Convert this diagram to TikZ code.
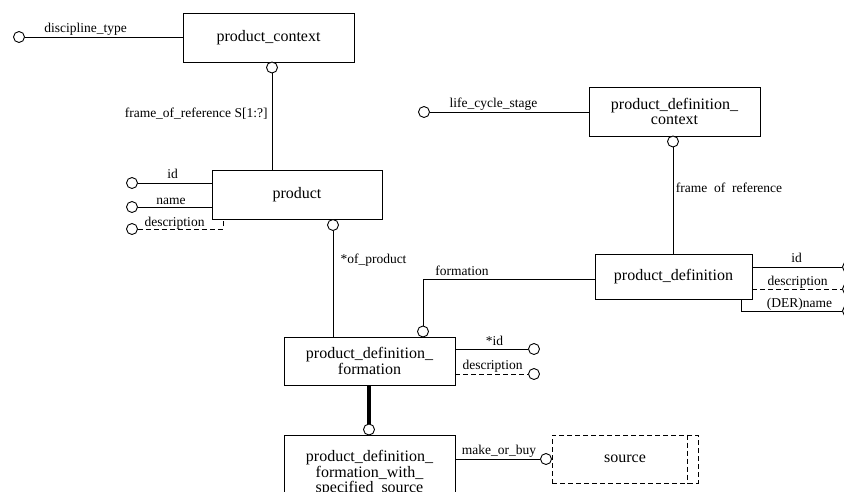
\documentclass[tikz,border=0pt]{standalone}
\usepackage{fontspec}
\setmainfont{Liberation Serif}

\begin{document}
\begin{tikzpicture}[x=1pt,y=-1pt,line width=0.9pt,
	entity/.style={draw,rectangle,minimum width=171pt,minimum height=49pt,align=center,inner sep=2pt,font=\fontsize{16}{15.5}\selectfont},
	ring/.style={draw,circle,fill=white,minimum size=11pt,inner sep=0pt},
	attr/.style={font=\fontsize{13.5}{14}\selectfont,inner sep=0pt,anchor=base},
	opt/.style={dash pattern=on 5pt off 3pt}]

		\useasboundingbox (0,0) rectangle (844,491);
		\clip (0,0) rectangle (844,491);

		% entities
		\node[entity] (pc) at (268.5,37.5) {product\_context};
		\node[entity,minimum width=170pt] (prod) at (297,194.5) {product};
		\node[entity] (pdc) at (674.5,111.5) {product\_definition\_\\context};
		\node[entity,minimum width=157pt,minimum height=45pt] (pd) at (673.5,276.5) {product\_definition};
		\node[entity,minimum height=48pt] (pdf) at (369.5,361) {product\_definition\_\\formation};
		\node[entity,anchor=north,minimum height=76pt] (pdfs) at (369.5,435) {product\_definition\_\\formation\_with\_\\specified\_source};
		\node[entity,opt,minimum width=146pt,minimum height=48pt] (src) at (625,459) {source};
		\draw[opt] ([xshift=-11pt]src.north east) -- ([xshift=-11pt]src.south east);

		% product_context
		\node[ring] (dtr) at (19,37) {};
		\draw (dtr) -- (dtr -| pc.west);
		\node[attr] (dtl) at (85.5,32) {discipline\_type};
		\node[ring] (pcr) at (272,67.5) {};
		\draw (pcr) -- (pcr |- prod.north);
		\node[attr,anchor=base east] (forl) at (268,117) {frame\_of\_reference S[1:?]};

		% product
		\node[ring] (idr) at (132,183) {};
		\node[ring] (namer) at (132,207) {};
		\node[ring] (descr) at (132,229) {};
		\draw (idr) -- (idr -| prod.west);
		\draw (namer) -- (namer -| prod.west);
		\coordinate (dk) at (223,229);
		\draw[opt] (descr) -- (dk) -- (dk |- prod.south);
		\node[attr] (idl) at (172.5,178) {id};
		\node[attr] (namel) at (171,204) {name};
		\node[attr] (descl) at (174.5,226.5) {description};
		\node[ring] (ofr) at (333,225) {};
		\draw (ofr) -- (ofr |- pdf.north);
		\node[attr] (ofl) at (373.5,263) {*of\_product};

		% product_definition_context
		\node[ring] (lcsr) at (424,112) {};
		\draw (lcsr) -- (lcsr -| pdc.west);
		\node[attr] (lcsl) at (493.5,107) {life\_cycle\_stage};
		\node[ring] (pdcr) at (673,141.5) {};
		\draw (pdcr) -- (pdcr |- pd.north);
		\node[attr] (frl) at (729,192) {frame\ \ of\ \ reference};

		% product_definition
		\node[ring] (pidr) at (848,267) {};
		\node[ring] (pdesr) at (848,289) {};
		\node[ring] (pnamer) at (848,311) {};
		\draw (pd.east |- pidr) -- (pidr);
		\draw[opt] (pd.east |- pdesr) -- (pdesr);
		\coordinate (pdk) at (741,311);
		\draw (pdk |- pd.south) -- (pdk) -- (pnamer);
		\node[attr] (pidl) at (796.5,262) {id};
		\node[attr] (pdesl) at (797.5,285) {description};
		\node[attr] (pnamel) at (799.5,307) {(DER)name};
		\node[ring] (fr) at (423,331.5) {};
		\coordinate (fk) at (423,279);
		\draw (pd.west |- fk) -- (fk) -- (fr);
		\node[attr] (fl) at (462,275) {formation};

		% product_definition_formation
		\node[ring] (fidr) at (534,349) {};
		\node[ring] (fdesr) at (534,374) {};
		\draw (pdf.east |- fidr) -- (fidr);
		\draw[opt] (pdf.east |- fdesr) -- (fdesr);
		\node[attr] (fidl) at (494.5,345) {*id};
		\node[attr] (fdesl) at (492.5,369) {description};
		\node[ring] (sr) at (369,429.5) {};
		\draw[line width=4pt] (sr |- pdf.south) -- (sr);

		% source
		\node[ring] (mbr) at (546,459) {};
		\draw (pdfs.east |- mbr) -- (mbr);
		\node[attr] (mbl) at (499,454) {make\_or\_buy};

\end{tikzpicture}
\end{document}
